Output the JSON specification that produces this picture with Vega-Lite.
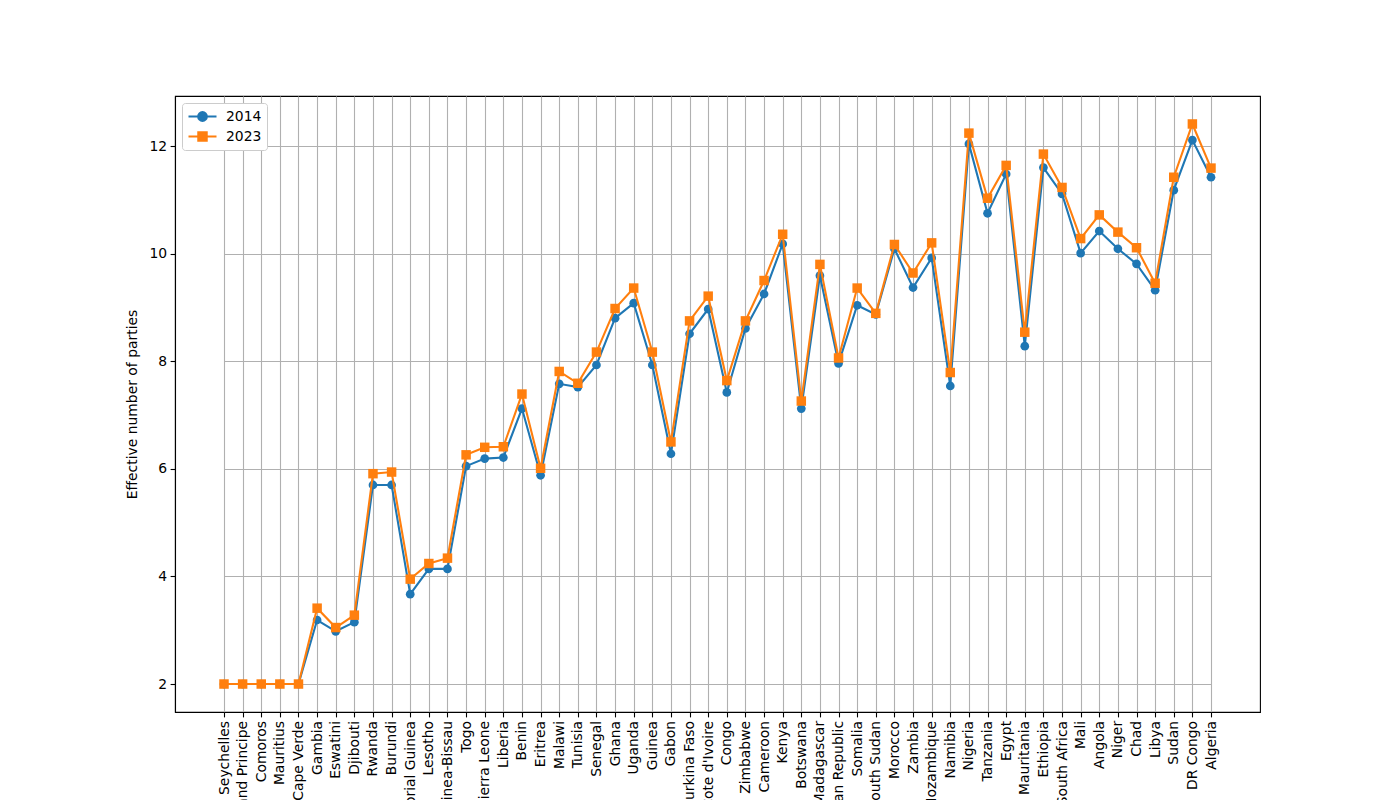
{
  "$schema": "https://vega.github.io/schema/vega-lite/v6.json",
  "autosize": {"type": "none"},
  "width": 1085,
  "height": 616,
  "padding": {"left": 175, "top": 96, "right": 140, "bottom": 88},
  "background": "white",
  "data": {"values": [
    {"country": "Seychelles", "year": "2014", "value": 2}, {"country": "Seychelles", "year": "2023", "value": 2},
    {"country": "Sao Tome and Principe", "year": "2014", "value": 2}, {"country": "Sao Tome and Principe", "year": "2023", "value": 2},
    {"country": "Comoros", "year": "2014", "value": 2}, {"country": "Comoros", "year": "2023", "value": 2},
    {"country": "Mauritius", "year": "2014", "value": 2}, {"country": "Mauritius", "year": "2023", "value": 2},
    {"country": "Cape Verde", "year": "2014", "value": 2}, {"country": "Cape Verde", "year": "2023", "value": 2},
    {"country": "Gambia", "year": "2014", "value": 3.19}, {"country": "Gambia", "year": "2023", "value": 3.41},
    {"country": "Eswatini", "year": "2014", "value": 2.98}, {"country": "Eswatini", "year": "2023", "value": 3.05},
    {"country": "Djibouti", "year": "2014", "value": 3.15}, {"country": "Djibouti", "year": "2023", "value": 3.28},
    {"country": "Rwanda", "year": "2014", "value": 5.70}, {"country": "Rwanda", "year": "2023", "value": 5.91},
    {"country": "Burundi", "year": "2014", "value": 5.70}, {"country": "Burundi", "year": "2023", "value": 5.94},
    {"country": "Equatorial Guinea", "year": "2014", "value": 3.67}, {"country": "Equatorial Guinea", "year": "2023", "value": 3.95},
    {"country": "Lesotho", "year": "2014", "value": 4.14}, {"country": "Lesotho", "year": "2023", "value": 4.24},
    {"country": "Guinea-Bissau", "year": "2014", "value": 4.14}, {"country": "Guinea-Bissau", "year": "2023", "value": 4.34},
    {"country": "Togo", "year": "2014", "value": 6.05}, {"country": "Togo", "year": "2023", "value": 6.26},
    {"country": "Sierra Leone", "year": "2014", "value": 6.19}, {"country": "Sierra Leone", "year": "2023", "value": 6.40},
    {"country": "Liberia", "year": "2014", "value": 6.21}, {"country": "Liberia", "year": "2023", "value": 6.41},
    {"country": "Benin", "year": "2014", "value": 7.12}, {"country": "Benin", "year": "2023", "value": 7.39},
    {"country": "Eritrea", "year": "2014", "value": 5.88}, {"country": "Eritrea", "year": "2023", "value": 6.01},
    {"country": "Malawi", "year": "2014", "value": 7.58}, {"country": "Malawi", "year": "2023", "value": 7.81},
    {"country": "Tunisia", "year": "2014", "value": 7.52}, {"country": "Tunisia", "year": "2023", "value": 7.59},
    {"country": "Senegal", "year": "2014", "value": 7.93}, {"country": "Senegal", "year": "2023", "value": 8.17},
    {"country": "Ghana", "year": "2014", "value": 8.80}, {"country": "Ghana", "year": "2023", "value": 8.98},
    {"country": "Uganda", "year": "2014", "value": 9.08}, {"country": "Uganda", "year": "2023", "value": 9.36},
    {"country": "Guinea", "year": "2014", "value": 7.93}, {"country": "Guinea", "year": "2023", "value": 8.17},
    {"country": "Gabon", "year": "2014", "value": 6.28}, {"country": "Gabon", "year": "2023", "value": 6.50},
    {"country": "Burkina Faso", "year": "2014", "value": 8.51}, {"country": "Burkina Faso", "year": "2023", "value": 8.75},
    {"country": "Cote d'Ivoire", "year": "2014", "value": 8.97}, {"country": "Cote d'Ivoire", "year": "2023", "value": 9.21},
    {"country": "Congo", "year": "2014", "value": 7.42}, {"country": "Congo", "year": "2023", "value": 7.64},
    {"country": "Zimbabwe", "year": "2014", "value": 8.61}, {"country": "Zimbabwe", "year": "2023", "value": 8.75},
    {"country": "Cameroon", "year": "2014", "value": 9.25}, {"country": "Cameroon", "year": "2023", "value": 9.50},
    {"country": "Kenya", "year": "2014", "value": 10.18}, {"country": "Kenya", "year": "2023", "value": 10.36},
    {"country": "Botswana", "year": "2014", "value": 7.12}, {"country": "Botswana", "year": "2023", "value": 7.26},
    {"country": "Madagascar", "year": "2014", "value": 9.59}, {"country": "Madagascar", "year": "2023", "value": 9.80},
    {"country": "Central African Republic", "year": "2014", "value": 7.96}, {"country": "Central African Republic", "year": "2023", "value": 8.06},
    {"country": "Somalia", "year": "2014", "value": 9.04}, {"country": "Somalia", "year": "2023", "value": 9.36},
    {"country": "South Sudan", "year": "2014", "value": 8.87}, {"country": "South Sudan", "year": "2023", "value": 8.89},
    {"country": "Morocco", "year": "2014", "value": 10.09}, {"country": "Morocco", "year": "2023", "value": 10.17},
    {"country": "Zambia", "year": "2014", "value": 9.37}, {"country": "Zambia", "year": "2023", "value": 9.64},
    {"country": "Mozambique", "year": "2014", "value": 9.92}, {"country": "Mozambique", "year": "2023", "value": 10.20},
    {"country": "Namibia", "year": "2014", "value": 7.54}, {"country": "Namibia", "year": "2023", "value": 7.79},
    {"country": "Nigeria", "year": "2014", "value": 12.04}, {"country": "Nigeria", "year": "2023", "value": 12.24},
    {"country": "Tanzania", "year": "2014", "value": 10.75}, {"country": "Tanzania", "year": "2023", "value": 11.03},
    {"country": "Egypt", "year": "2014", "value": 11.48}, {"country": "Egypt", "year": "2023", "value": 11.64},
    {"country": "Mauritania", "year": "2014", "value": 8.28}, {"country": "Mauritania", "year": "2023", "value": 8.54},
    {"country": "Ethiopia", "year": "2014", "value": 11.60}, {"country": "Ethiopia", "year": "2023", "value": 11.85},
    {"country": "South Africa", "year": "2014", "value": 11.11}, {"country": "South Africa", "year": "2023", "value": 11.23},
    {"country": "Mali", "year": "2014", "value": 10.01}, {"country": "Mali", "year": "2023", "value": 10.28},
    {"country": "Angola", "year": "2014", "value": 10.42}, {"country": "Angola", "year": "2023", "value": 10.72},
    {"country": "Niger", "year": "2014", "value": 10.09}, {"country": "Niger", "year": "2023", "value": 10.40},
    {"country": "Chad", "year": "2014", "value": 9.81}, {"country": "Chad", "year": "2023", "value": 10.11},
    {"country": "Libya", "year": "2014", "value": 9.32}, {"country": "Libya", "year": "2023", "value": 9.45},
    {"country": "Sudan", "year": "2014", "value": 11.18}, {"country": "Sudan", "year": "2023", "value": 11.42},
    {"country": "DR Congo", "year": "2014", "value": 12.11}, {"country": "DR Congo", "year": "2023", "value": 12.41},
    {"country": "Algeria", "year": "2014", "value": 11.42}, {"country": "Algeria", "year": "2023", "value": 11.59}
  ]},
  "encoding": {
    "x": {
      "field": "country", "type": "nominal", "title": null, "sort": null,
      "scale": {"type": "point", "padding": 0, "range": [49, 1036]},
      "axis": {"labelAngle": 270, "grid": true, "labelPadding": 3.5}
    },
    "y": {
      "field": "value", "type": "quantitative", "title": "Effective number of parties",
      "scale": {"domain": [1.48, 12.93], "nice": false, "zero": false},
      "axis": {"values": [2, 4, 6, 8, 10, 12], "format": "d", "grid": true, "titlePadding": 9}
    }
  },
  "layer": [
    {
      "mark": {"type": "point", "filled": true, "opacity": 0, "size": 196, "strokeWidth": 2.08},
      "encoding": {
        "color": {"field": "year", "type": "nominal", "title": null, "scale": {"domain": ["2014", "2023"], "range": ["#1f77b4", "#ff7f0e"]}},
        "stroke": {"field": "year", "type": "nominal", "title": null, "scale": {"domain": ["2014", "2023"], "range": ["#1f77b4", "#ff7f0e"]}},
        "shape": {"field": "year", "type": "nominal", "title": null, "scale": {"domain": ["2014", "2023"], "range": ["M-2,0H2M-0.62,0A0.62,0.62,0,1,1,0.62,0A0.62,0.62,0,1,1,-0.62,0Z", "M-2,0H2M-0.6,-0.6H0.6V0.6H-0.6Z"]}}
      }
    },
    {
      "transform": [{"filter": "datum.year === '2014'"}],
      "layer": [
        {"mark": {"type": "line", "color": "#1f77b4", "strokeWidth": 2.08}},
        {"mark": {"type": "point", "filled": true, "opacity": 1, "size": 76, "shape": "circle", "color": "#1f77b4"}}
      ]
    },
    {
      "transform": [{"filter": "datum.year === '2023'"}],
      "layer": [
        {"mark": {"type": "line", "color": "#ff7f0e", "strokeWidth": 2.08}},
        {"mark": {"type": "point", "filled": true, "opacity": 1, "size": 90, "shape": "square", "color": "#ff7f0e"}}
      ]
    }
  ],
  "config": {
    "font": "DejaVu Sans",
    "view": {"stroke": "black", "strokeWidth": 1.1},
    "axis": {
      "domainColor": "black", "domainWidth": 1.1,
      "tickColor": "black", "tickSize": 4.9, "tickWidth": 1.1,
      "labelColor": "black", "labelFontSize": 13.9, "labelFont": "DejaVu Sans",
      "titleColor": "black", "titleFontSize": 13.9, "titleFontWeight": "normal", "titleFont": "DejaVu Sans",
      "gridColor": "#b0b0b0", "gridWidth": 1.1, "gridOpacity": 1,
      "labelPadding": 3.5, "labelOverlap": false, "labelBound": false, "labelFlush": false
    },
    "legend": {
      "orient": "top-left", "offset": 7,
      "fillColor": "white", "strokeColor": "#cccccc", "cornerRadius": 3,
      "padding": 5, "rowPadding": 3,
      "labelFontSize": 13.9, "labelFont": "DejaVu Sans", "labelColor": "black",
      "symbolSize": 196, "symbolOffset": 7, "labelOffset": 15,
      "symbolStrokeWidth": 2.08, "symbolOpacity": 1
    }
  }
}
